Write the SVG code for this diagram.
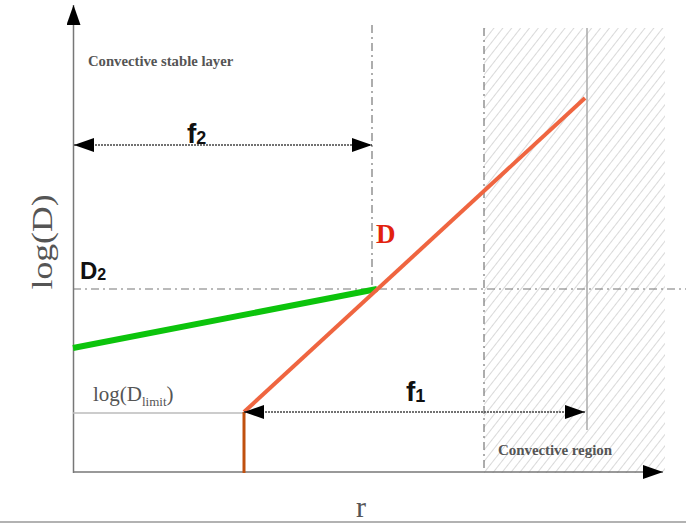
<svg xmlns="http://www.w3.org/2000/svg" width="686" height="524" viewBox="0 0 686 524">
<defs>
<pattern id="hatch" patternUnits="userSpaceOnUse" width="7" height="7" patternTransform="rotate(38)">
<line x1="0" y1="0" x2="0" y2="7" stroke="#cfcfcf" stroke-width="1.6"/>
</pattern>
<marker id="ahead" viewBox="0 0 20 14" refX="20" refY="7" markerWidth="20" markerHeight="14" markerUnits="userSpaceOnUse" orient="auto-start-reverse">
<path d="M0,0 L20,7 L0,14 Z" fill="#000"/>
</marker>
</defs>
<style>
.serif{font-family:"Liberation Serif","DejaVu Serif",serif}
.sans{font-family:"Liberation Sans","DejaVu Sans",sans-serif}
.dashdot{stroke:#777;stroke-width:1.2;fill:none;stroke-dasharray:8,4,2,4}
.dotted{stroke:#444;stroke-width:1.5;fill:none;stroke-dasharray:2,1}
</style>
<rect width="686" height="524" fill="#fff"/>
<g id="convective-region">
<rect x="484" y="28" width="181" height="445" fill="url(#hatch)"/>
<line x1="484" y1="28" x2="484" y2="472" class="dashdot"/>
<line x1="587" y1="28" x2="587" y2="430" stroke="#aaa" stroke-width="1.5"/>
<text x="498" y="455" class="serif" font-size="15" font-weight="bold" fill="#555" textLength="114">Convective region</text>
</g>
<g id="guides">
<line x1="372" y1="25" x2="372" y2="289" class="dashdot"/>
<line x1="73" y1="289" x2="686" y2="289" class="dashdot"/>
</g>
<g id="axes">
<line x1="73.5" y1="473" x2="73.5" y2="5" stroke="#777" stroke-width="1.5" marker-end="url(#ahead)"/>
<line x1="73" y1="472" x2="663" y2="472" stroke="#777" stroke-width="1.5" marker-end="url(#ahead)"/>
<text transform="translate(52,242) rotate(-90)" text-anchor="middle" class="serif" font-size="30" fill="#555" textLength="95" lengthAdjust="spacingAndGlyphs">log(D)</text>
<text x="356" y="517" class="serif" font-size="30" fill="#555">r</text>
</g>
<g id="labels">
<text x="88" y="66" class="serif" font-size="14.7" font-weight="bold" fill="#555">Convective stable layer</text>
<text x="80" y="279" class="sans" font-size="24" font-weight="bold" fill="#111">D<tspan font-size="16" dy="1">2</tspan></text>
<text x="376" y="243" class="serif" font-size="27" font-weight="bold" fill="#e2220e">D</text>
<text x="93" y="401" class="serif" font-size="21" fill="#555">log(D<tspan font-size="13" dy="5">limit</tspan><tspan dy="-5">)</tspan></text>
</g>
<g id="connectors">
<line x1="73" y1="413" x2="244" y2="413" stroke="#bbb" stroke-width="1.5"/>
<line x1="73" y1="348" x2="377" y2="289" stroke="#0cc40c" stroke-width="6"/>
<line x1="244" y1="412" x2="585" y2="98" stroke="#ef6540" stroke-width="4"/>
<line x1="244" y1="412" x2="244" y2="473" stroke="#c0500f" stroke-width="3"/>
<line x1="74" y1="145" x2="372" y2="145" class="dotted" marker-start="url(#ahead)" marker-end="url(#ahead)"/>
<line x1="244" y1="412" x2="585" y2="412" class="dotted" marker-start="url(#ahead)" marker-end="url(#ahead)"/>
</g>
<g id="f-labels">
<text x="187" y="143" class="sans" font-size="28" font-weight="bold" fill="#111">f<tspan font-size="18" dy="1">2</tspan></text>
<text x="406" y="401" class="sans" font-size="28" font-weight="bold" fill="#111">f<tspan font-size="18" dy="1">1</tspan></text>
</g>
<line x1="0" y1="522" x2="686" y2="522" stroke="#999" stroke-width="1.5"/>
</svg>
